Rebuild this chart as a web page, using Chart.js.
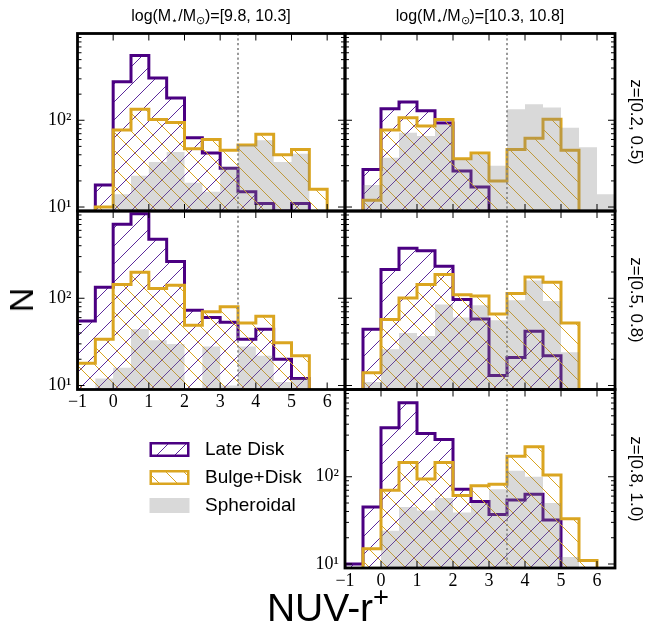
<!DOCTYPE html>
<html><head><meta charset="utf-8">
<script src="https://cdn.jsdelivr.net/npm/chart.js@4.4.1/dist/chart.umd.min.js"></script>
<style>
html,body{margin:0;padding:0;background:#fff;}
body{width:649px;height:624px;position:relative;overflow:hidden;font-family:"Liberation Sans",Arial,sans-serif;color:#000;}
canvas{position:absolute;left:0;top:0;}
.lbl{position:absolute;white-space:nowrap;transform:translate(-50%,-50%);line-height:1;}
.rot{transform:translate(-50%,-50%) rotate(90deg);}
.rotl{transform:translate(-50%,-50%) rotate(-90deg);}
sub{font-size:70%;vertical-align:-0.25em;}
sup{font-size:70%;vertical-align:0.55em;}
</style></head><body>
<canvas id="cA" width="649" height="624"></canvas>
<canvas id="cB" width="649" height="624"></canvas>
<canvas id="cC" width="649" height="624"></canvas>
<canvas id="cD" width="649" height="624"></canvas>
<canvas id="cE" width="649" height="624"></canvas>
<canvas id="cL" width="649" height="624"></canvas>
<div class="lbl" style="left:211px;top:17px;font-size:16px;">log(M<sub>⋆</sub>/M<sub>⊙</sub>)=[9.8, 10.3]</div>
<div class="lbl" style="left:480px;top:17px;font-size:16px;">log(M<sub>⋆</sub>/M<sub>⊙</sub>)=[10.3, 10.8]</div>
<div class="lbl rot" style="left:636px;top:122px;font-size:17px;">z=[0.2, 0.5)</div>
<div class="lbl rot" style="left:636px;top:300px;font-size:17px;">z=[0.5, 0.8)</div>
<div class="lbl rot" style="left:636px;top:479px;font-size:17px;">z=[0.8, 1.0)</div>
<div class="lbl rotl" style="left:21px;top:300px;font-size:34px;">N</div>
<div class="lbl" style="left:328px;top:605px;font-size:39px;">NUV-r<sup>+</sup></div>
<script>
// ---------------- data ----------------
const binEdges = [-1, -0.5, 0, 0.5, 1, 1.5, 2, 2.5, 3, 3.5, 4, 4.5, 5, 5.5, 6, 6.5];
const xTickValues = [-1, 0, 1, 2, 3, 4, 5, 6];
const yTickValues = [10, 100];
const yMinorValues = [20, 30, 40, 50, 60, 70, 80, 90, 200, 300, 400, 500, 600, 700, 800, 900];
const seriesNames = ['Late Disk', 'Bulge+Disk', 'Spheroidal'];
const dividerX = 3.5;

// log M [9.8,10.3], z [0.2,0.5)
const lateA  = [0, 18, 277, 559, 307, 181, 63, 42, 28, 15, 11, 9, 11, 0, 0];
const bulgeA = [0, 10, 77, 134, 102, 94, 47, 60, 45, 52, 69, 40, 46, 16, 0];
const sphA   = [0, 0, 14, 23, 33, 43, 19, 15, 29, 52, 59, 33, 41, 0, 0];
// log M [10.3,10.8], z [0.2,0.5)
const lateB  = [0, 27, 136, 162, 129, 93, 26, 17, 0, 0, 0, 0, 0, 0, 0];
const bulgeB = [0, 12, 77, 107, 86, 102, 36, 42, 20, 46, 62, 103, 45, 0, 0];
const sphB   = [0, 18, 37, 72, 66, 88, 35, 40, 30, 134, 153, 140, 82, 49, 14];
// log M [9.8,10.3], z [0.5,0.8)
const lateC  = [55, 134, 705, 930, 476, 263, 73, 60, 53, 34, 44, 20, 12, 0, 0];
const bulgeC = [18, 34, 144, 199, 129, 141, 49, 70, 80, 52, 62, 31, 22, 0, 0];
const sphC   = [0, 12, 16, 44, 33, 30, 0, 28, 10, 28, 22, 11, 12, 0, 0];
// log M [10.3,10.8], z [0.5,0.8)
const lateD  = [0, 44, 213, 373, 351, 233, 97, 58, 13, 21, 42, 22, 0, 0, 0];
const bulgeD = [0, 14, 57, 101, 144, 187, 110, 106, 66, 113, 175, 153, 52, 0, 0];
const sphD   = [0, 11, 26, 40, 37, 85, 60, 83, 56, 95, 160, 93, 24, 0, 0];
// log M [10.3,10.8], z [0.8,1.0)
const lateE  = [10, 45, 364, 704, 313, 267, 72, 52, 37, 54, 63, 32, 0, 0, 0];
const bulgeE = [0, 15, 70, 146, 94, 146, 61, 79, 82, 172, 221, 105, 33, 11, 0];
const sphE   = [0, 0, 24, 45, 41, 57, 39, 50, 72, 117, 100, 50, 12, 0, 0];

// ---------------- style / layout ----------------
const W = 649, H = 624;
const PURPLE = '#4b0082', GOLD = '#daa520', GRAY = 'rgba(128,128,128,0.3)';
const FLOOR = 1;
const YW = 60, XH = 30;
const cols = [[77.5, 345], [345, 615]];
const rows = [[33.5, 211], [211, 389.5], [389.5, 568]];
const panels = [
  {id:'cA', c:0, r:0, late:lateA, bulge:bulgeA, sph:sphA, showX:false, showY:true},
  {id:'cB', c:1, r:0, late:lateB, bulge:bulgeB, sph:sphB, showX:false, showY:false},
  {id:'cC', c:0, r:1, late:lateC, bulge:bulgeC, sph:sphC, showX:true,  showY:true},
  {id:'cD', c:1, r:1, late:lateD, bulge:bulgeD, sph:sphD, showX:false, showY:false},
  {id:'cE', c:1, r:2, late:lateE, bulge:bulgeE, sph:sphE, showX:true,  showY:true},
];

function hatch(color, dir, s, lw){
  const c = document.createElement('canvas'); c.width = s; c.height = s;
  const g = c.getContext('2d');
  g.strokeStyle = color; g.lineWidth = lw;
  g.beginPath();
  for (let k = -1; k <= 1; k++){
    if (dir === '/'){ g.moveTo(k*s, s); g.lineTo(k*s + s, 0); }
    else { g.moveTo(k*s, 0); g.lineTo(k*s + s, s); }
  }
  g.stroke();
  return g.createPattern(c, 'repeat');
}
const purpleHatch = hatch('#5c2a9c', '/', 18, 1);
const goldHatch = hatch(GOLD, '\\', 18, 1);

function stepData(vals){
  const n = vals.length;
  const f = v => (v > 0 ? v : FLOOR);
  const pts = [{x: binEdges[0], y: FLOOR}];
  vals.forEach((v, i) => pts.push({x: binEdges[i], y: f(v)}));
  pts.push({x: binEdges[n], y: f(vals[n-1])});
  pts.push({x: binEdges[n], y: FLOOR});
  return pts;
}

const frameTicks = {
  id: 'frameTicks',
  afterDatasetsDraw(chart){
    const {ctx, chartArea: a, scales: {x, y}} = chart;
    ctx.save();
    const px = x.getPixelForValue(dividerX);
    ctx.strokeStyle = '#808080'; ctx.lineWidth = 1.6; ctx.setLineDash([2.2, 2.6]);
    ctx.beginPath(); ctx.moveTo(px, a.top); ctx.lineTo(px, a.bottom); ctx.stroke();
    ctx.setLineDash([]);
    ctx.strokeStyle = '#000'; ctx.lineWidth = 1;
    ctx.beginPath();
    const MAJ = 7, MIN = 4;
    xTickValues.forEach(v => {
      const p = x.getPixelForValue(v);
      ctx.moveTo(p, a.bottom); ctx.lineTo(p, a.bottom - MAJ);
      ctx.moveTo(p, a.top); ctx.lineTo(p, a.top + MAJ);
    });
    yTickValues.forEach(v => {
      const p = y.getPixelForValue(v);
      ctx.moveTo(a.left, p); ctx.lineTo(a.left + MAJ, p);
      ctx.moveTo(a.right, p); ctx.lineTo(a.right - MAJ, p);
    });
    yMinorValues.forEach(v => {
      const p = y.getPixelForValue(v);
      ctx.moveTo(a.left, p); ctx.lineTo(a.left + MIN, p);
      ctx.moveTo(a.right, p); ctx.lineTo(a.right - MIN, p);
    });
    ctx.stroke();
    ctx.lineWidth = 2.8;
    ctx.strokeRect(a.left, a.top, a.width, a.height);
    ctx.restore();
  }
};

const sup = {1:'\u00b9', 2:'\u00b2', 3:'\u00b3'};
const tickFont = {family: '"Liberation Serif", "DejaVu Serif", serif', size: 18};
panels.forEach(p => {
  const [L, R] = cols[p.c], [T, B] = rows[p.r];
  const yw = p.showY ? YW : 0, xh = p.showX ? XH : 0;
  new Chart(document.getElementById(p.id), {
    type: 'line',
    data: {
      datasets: [
        {label: seriesNames[2], data: stepData(p.sph), stepped: 'before', fill: 'start',
         backgroundColor: GRAY, borderWidth: 0, borderColor: 'rgba(0,0,0,0)', pointRadius: 0, order: 0, clip: 0},
        {label: seriesNames[1], data: stepData(p.bulge), stepped: 'before', fill: 'start',
         backgroundColor: goldHatch, borderColor: GOLD, borderWidth: 3, pointRadius: 0, order: 1, clip: 0,
         borderJoinStyle: 'miter'},
        {label: seriesNames[0], data: stepData(p.late), stepped: 'before', fill: 'start',
         backgroundColor: purpleHatch, borderColor: PURPLE, borderWidth: 3, pointRadius: 0, order: 2, clip: 0,
         borderJoinStyle: 'miter'},
      ]
    },
    options: {
      responsive: false, animation: false, devicePixelRatio: 1,
      layout: {padding: {left: L - yw, top: T, right: W - R, bottom: H - B - xh}},
      plugins: {legend: {display: false}, tooltip: {enabled: false}},
      events: [],
      scales: {
        x: {type: 'linear', min: -1, max: 6.5, position: 'bottom',
            grid: {display: false, drawTicks: false}, border: {display: false},
            ticks: {display: p.showX, autoSkip: false, maxRotation: 0, padding: 2, color: '#000', font: tickFont,
                    callback: v => (v < 0 ? '\u2212' + Math.abs(v) : String(v))},
            afterBuildTicks: s => { s.ticks = xTickValues.map(v => ({value: v})); },
            afterFit: s => { s.height = xh; }},
        y: {type: 'logarithmic', min: 9, max: 1000, position: 'left',
            grid: {display: false, drawTicks: false}, border: {display: false},
            ticks: {display: p.showY, autoSkip: false, padding: 6, color: '#000', font: tickFont,
                    callback: v => '10' + sup[Math.round(Math.log10(v))]},
            afterBuildTicks: s => { s.ticks = yTickValues.map(v => ({value: v, major: true})); },
            afterFit: s => { s.width = yw; }}
      }
    },
    plugins: [frameTicks]
  });
});

// legend
const legendItems = [
  {text: seriesNames[0], fill: purpleHatch, stroke: PURPLE},
  {text: seriesNames[1], fill: goldHatch, stroke: GOLD},
  {text: seriesNames[2], fill: GRAY, stroke: null},
];
new Chart(document.getElementById('cL'), {
  type: 'line',
  data: {datasets: legendItems.map(it => ({label: it.text, data: [], backgroundColor: it.fill, borderColor: it.stroke || 'rgba(0,0,0,0)'}))},
  options: {
    responsive: false, animation: false, devicePixelRatio: 1, events: [],
    plugins: {legend: {display: false}, tooltip: {enabled: false}},
    scales: {x: {display: false}, y: {display: false}}
  },
  plugins: [{
    id: 'customLegend',
    afterDraw(chart){
      const ctx = chart.ctx;
      ctx.save();
      const x0 = 149.5, bw = 40, bh = 15, ys = [442, 470, 498];
      chart.data.datasets.forEach((ds, i) => {
        const y0 = ys[i];
        ctx.fillStyle = ds.backgroundColor;
        if (legendItems[i].stroke){
          ctx.fillRect(x0 + 1.25, y0 + 1.25, bw - 2.5, bh - 2.5);
          ctx.strokeStyle = ds.borderColor; ctx.lineWidth = 2.5;
          ctx.strokeRect(x0 + 1.25, y0 + 1.25, bw - 2.5, bh - 2.5);
        } else {
          ctx.fillRect(x0, y0, bw, bh);
        }
        ctx.fillStyle = '#000';
        ctx.font = '19px "Liberation Sans", Arial, sans-serif';
        ctx.textBaseline = 'middle';
        ctx.fillText(ds.label, 205, y0 + bh/2 + 0.5);
      });
      ctx.restore();
    }
  }]
});
</script>
</body></html>
